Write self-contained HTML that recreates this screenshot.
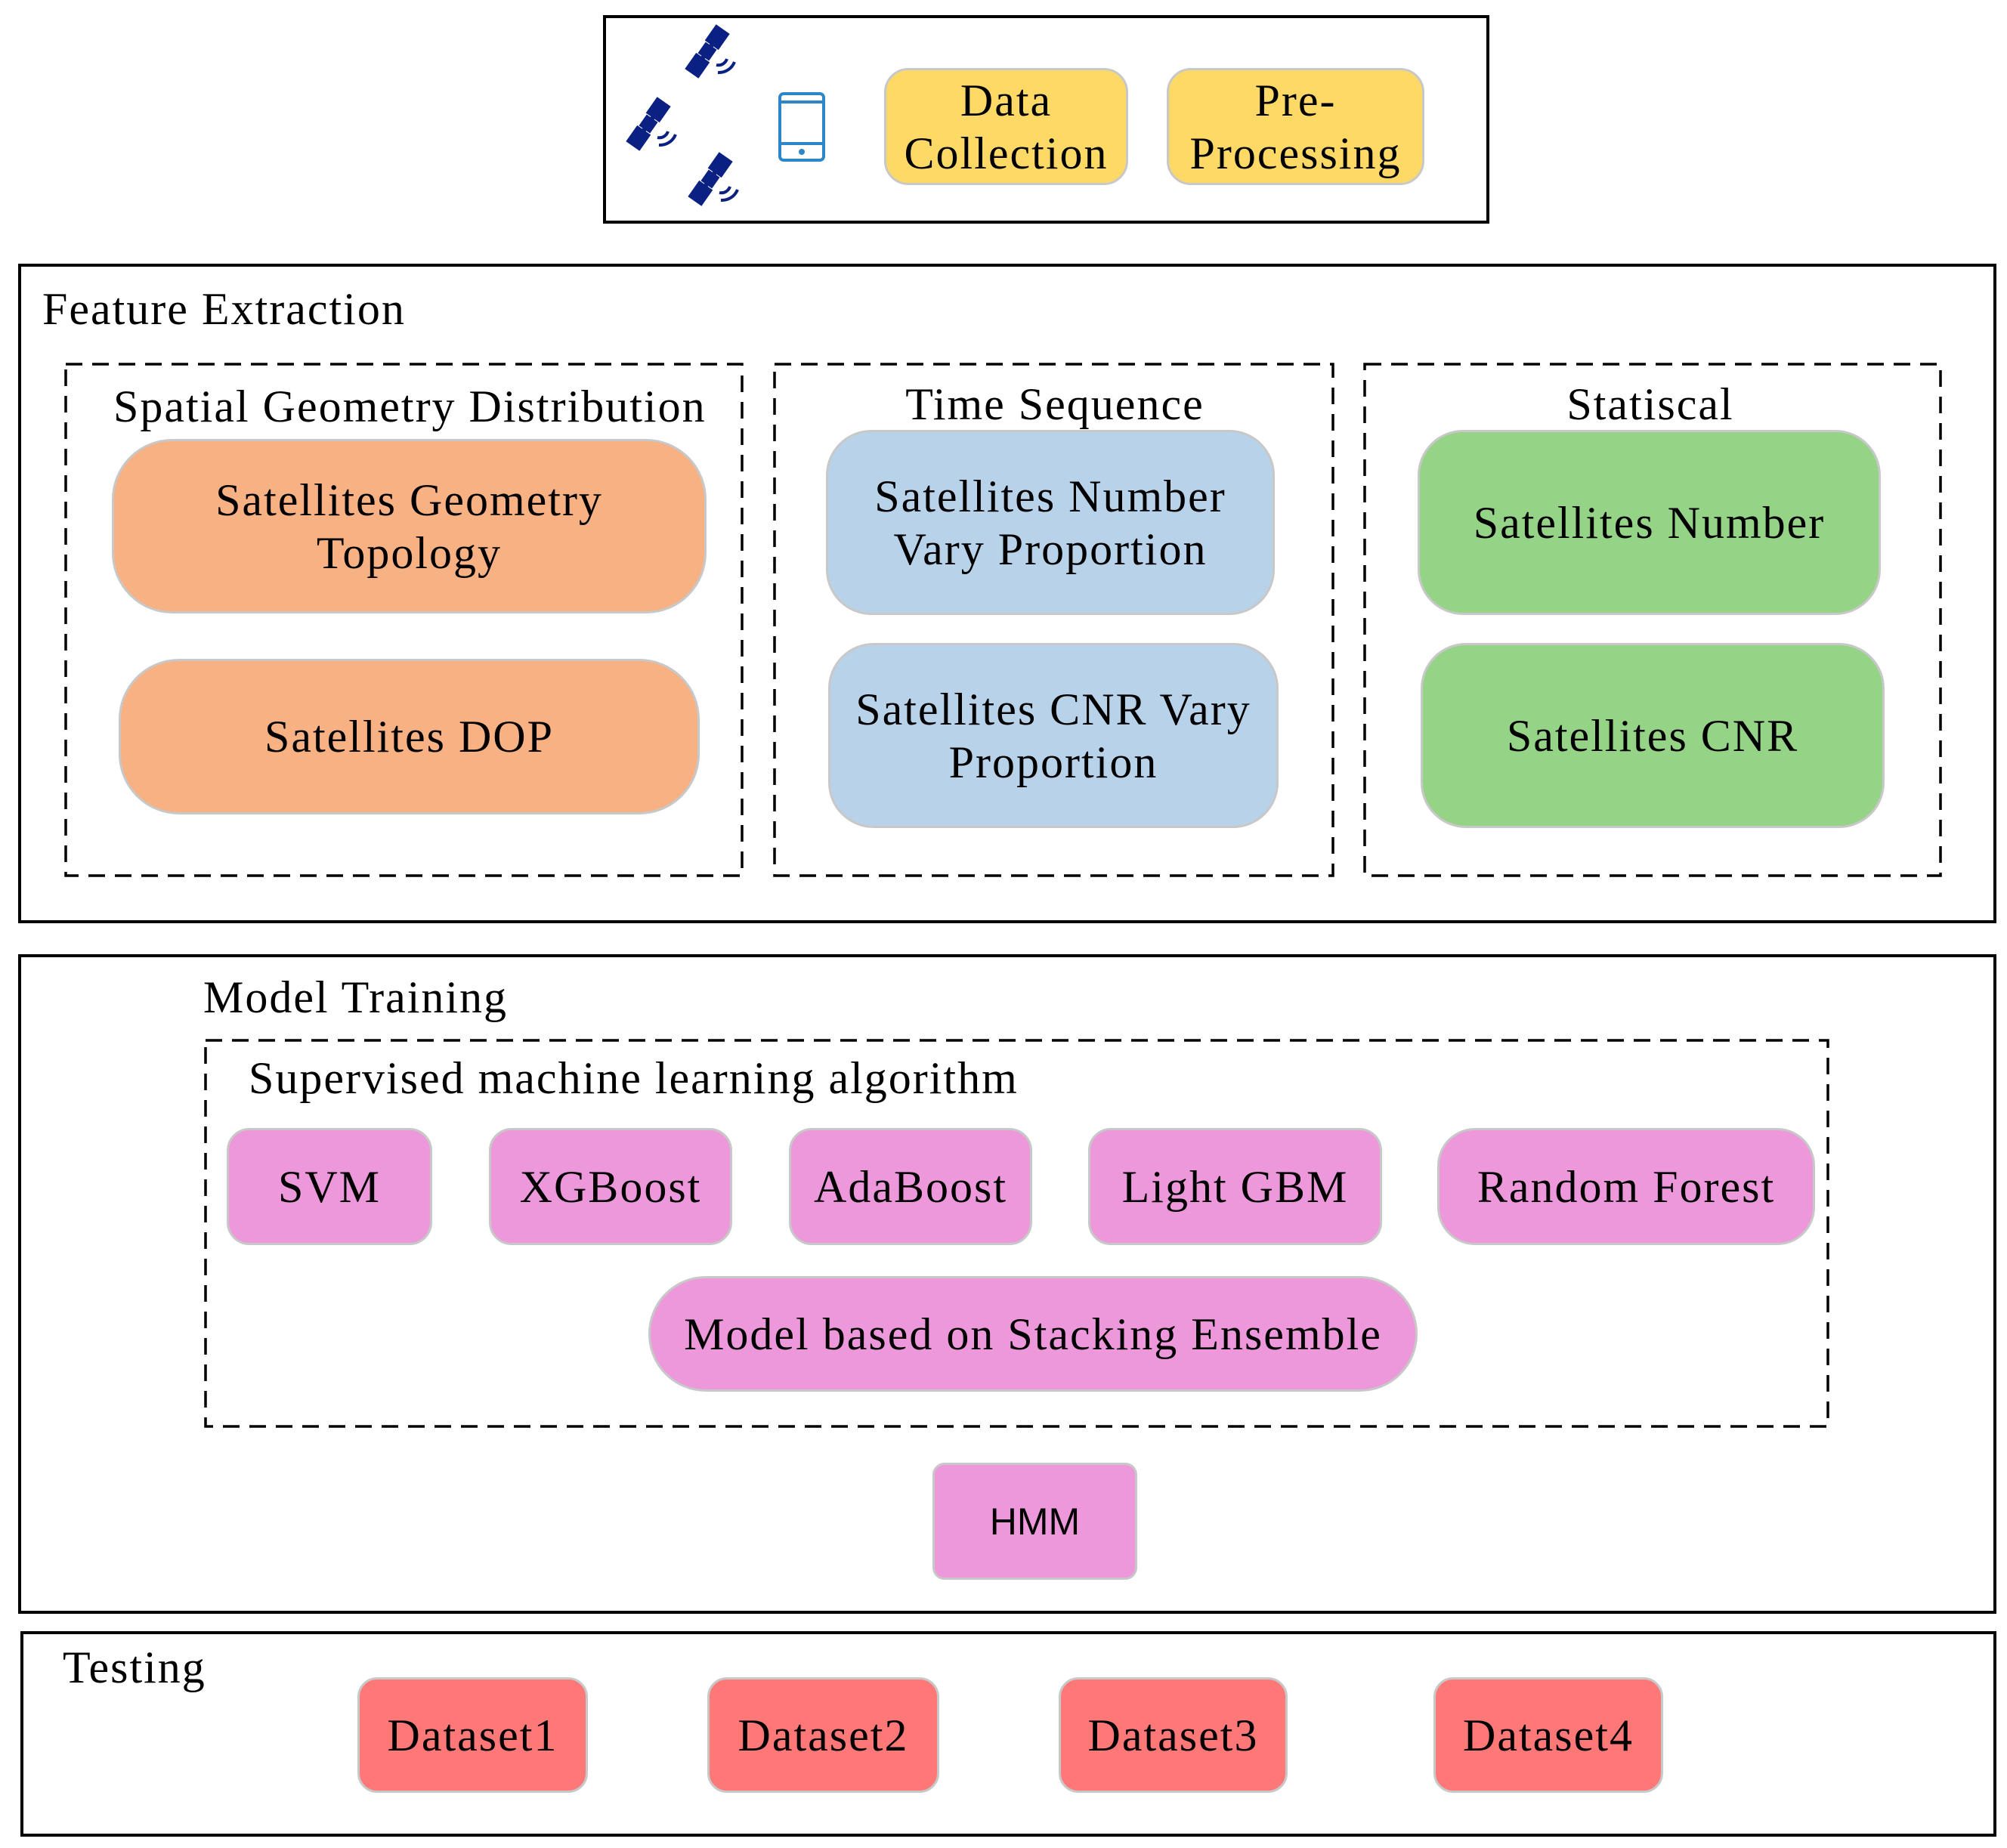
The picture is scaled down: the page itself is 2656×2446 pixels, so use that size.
<!DOCTYPE html>
<html><head><meta charset="utf-8"><style>
body{margin:0;width:2656px;height:2446px;background:#fff;position:relative;overflow:hidden;font-family:"Liberation Serif",serif;color:#000}
.b{position:absolute;box-sizing:border-box}
.solid{border:4px solid #000}
.n{position:absolute;box-sizing:border-box;border:3px solid #c8c8c8;display:flex;align-items:center;justify-content:center;text-align:center;font-size:60px;letter-spacing:2px;line-height:70px;white-space:nowrap}
.t{position:absolute;font-size:60px;letter-spacing:2px;white-space:nowrap;line-height:60px}
.y{background:#FFD966}.o{background:#F8B183}.bl{background:#B8D2EA}.g{background:#95D387}.p{background:#EC98DB}.r{background:#FF7878}
</style></head><body>
<div class="b solid" style="left:798px;top:20px;width:1173px;height:276px"></div>
<svg style="position:absolute;left:0;top:0" width="2656" height="2446">
<defs><g id="sat" transform="rotate(35)"><rect x="-11" y="-36" width="22" height="26" fill="#0b2083"/><rect x="-11" y="10" width="22" height="26" fill="#0b2083"/><rect x="-9" y="-9" width="18" height="18" fill="#0b2083"/><line x1="0" y1="-12" x2="0" y2="12" stroke="#0b2083" stroke-width="6"/></g>
<g id="wave"><path d="M4 10 a12 12 0 0 0 14 -8 M6 20 a22 22 0 0 0 22 -14" stroke="#0b2083" stroke-width="4" fill="none"/></g></defs>
<use href="#sat" x="936" y="68"/><use href="#wave" x="944" y="76"/>
<use href="#sat" x="858" y="164"/><use href="#wave" x="866" y="172"/>
<use href="#sat" x="940" y="237"/><use href="#wave" x="948" y="245"/>
<rect x="1032" y="124" width="58" height="88" rx="5" fill="none" stroke="#2e86c8" stroke-width="4"/>
<line x1="1032" y1="135" x2="1090" y2="135" stroke="#2e86c8" stroke-width="4"/>
<line x1="1032" y1="190" x2="1090" y2="190" stroke="#2e86c8" stroke-width="4"/>
<circle cx="1061" cy="201" r="4" fill="#2e86c8"/>
<g fill="none" stroke="#000" stroke-width="3.5" stroke-dasharray="22 13">
<rect x="87" y="482" width="895" height="677"/>
<rect x="1025" y="482" width="739" height="677"/>
<rect x="1806" y="482" width="762" height="677"/>
<rect x="272" y="1377" width="2147" height="511"/>
</g>
</svg>
<div class="n y" style="left:1170px;top:90px;width:323px;height:155px;border-radius:32px">Data<br>Collection</div>
<div class="n y" style="left:1544px;top:90px;width:341px;height:155px;border-radius:32px">Pre-<br>Processing</div>

<div class="b solid" style="left:24px;top:349px;width:2618px;height:873px"></div>
<div class="t" style="left:56px;top:379px">Feature Extraction</div>
<div class="t" style="left:150px;top:508px">Spatial Geometry Distribution</div>
<div class="t" style="left:1396px;top:505px;transform:translateX(-50%)">Time Sequence</div>
<div class="t" style="left:2184px;top:505px;transform:translateX(-50%)">Statiscal</div>
<div class="n o" style="left:148px;top:581px;width:787px;height:231px;border-radius:80px">Satellites Geometry<br>Topology</div>
<div class="n o" style="left:157px;top:872px;width:769px;height:206px;border-radius:80px">Satellites DOP</div>
<div class="n bl" style="left:1093px;top:569px;width:594px;height:245px;border-radius:60px">Satellites Number<br>Vary Proportion</div>
<div class="n bl" style="left:1096px;top:851px;width:596px;height:245px;border-radius:60px">Satellites CNR Vary<br>Proportion</div>
<div class="n g" style="left:1876px;top:569px;width:613px;height:245px;border-radius:60px">Satellites Number</div>
<div class="n g" style="left:1880px;top:851px;width:614px;height:245px;border-radius:60px">Satellites CNR</div>

<div class="b solid" style="left:24px;top:1263px;width:2618px;height:873px"></div>
<div class="t" style="left:269px;top:1290px">Model Training</div>
<div class="t" style="left:329px;top:1397px">Supervised machine learning algorithm</div>
<div class="n p" style="left:300px;top:1493px;width:272px;height:155px;border-radius:30px">SVM</div>
<div class="n p" style="left:647px;top:1493px;width:322px;height:155px;border-radius:30px">XGBoost</div>
<div class="n p" style="left:1044px;top:1493px;width:322px;height:155px;border-radius:30px">AdaBoost</div>
<div class="n p" style="left:1440px;top:1493px;width:389px;height:155px;border-radius:30px">Light GBM</div>
<div class="n p" style="left:1902px;top:1493px;width:500px;height:155px;border-radius:50px">Random Forest</div>
<div class="n p" style="left:858px;top:1689px;width:1018px;height:153px;border-radius:76px">Model based on Stacking Ensemble</div>
<div class="n p" style="left:1234px;top:1936px;width:271px;height:155px;border-radius:16px;font-family:'Liberation Sans',sans-serif;font-size:50px;letter-spacing:0">HMM</div>

<div class="b solid" style="left:27px;top:2159px;width:2615px;height:272px"></div>
<div class="t" style="left:83px;top:2177px">Testing</div>
<div class="n r" style="left:473px;top:2220px;width:305px;height:153px;border-radius:26px">Dataset1</div>
<div class="n r" style="left:936px;top:2220px;width:307px;height:153px;border-radius:26px">Dataset2</div>
<div class="n r" style="left:1401px;top:2220px;width:303px;height:153px;border-radius:26px">Dataset3</div>
<div class="n r" style="left:1897px;top:2220px;width:304px;height:153px;border-radius:26px">Dataset4</div>
</body></html>
